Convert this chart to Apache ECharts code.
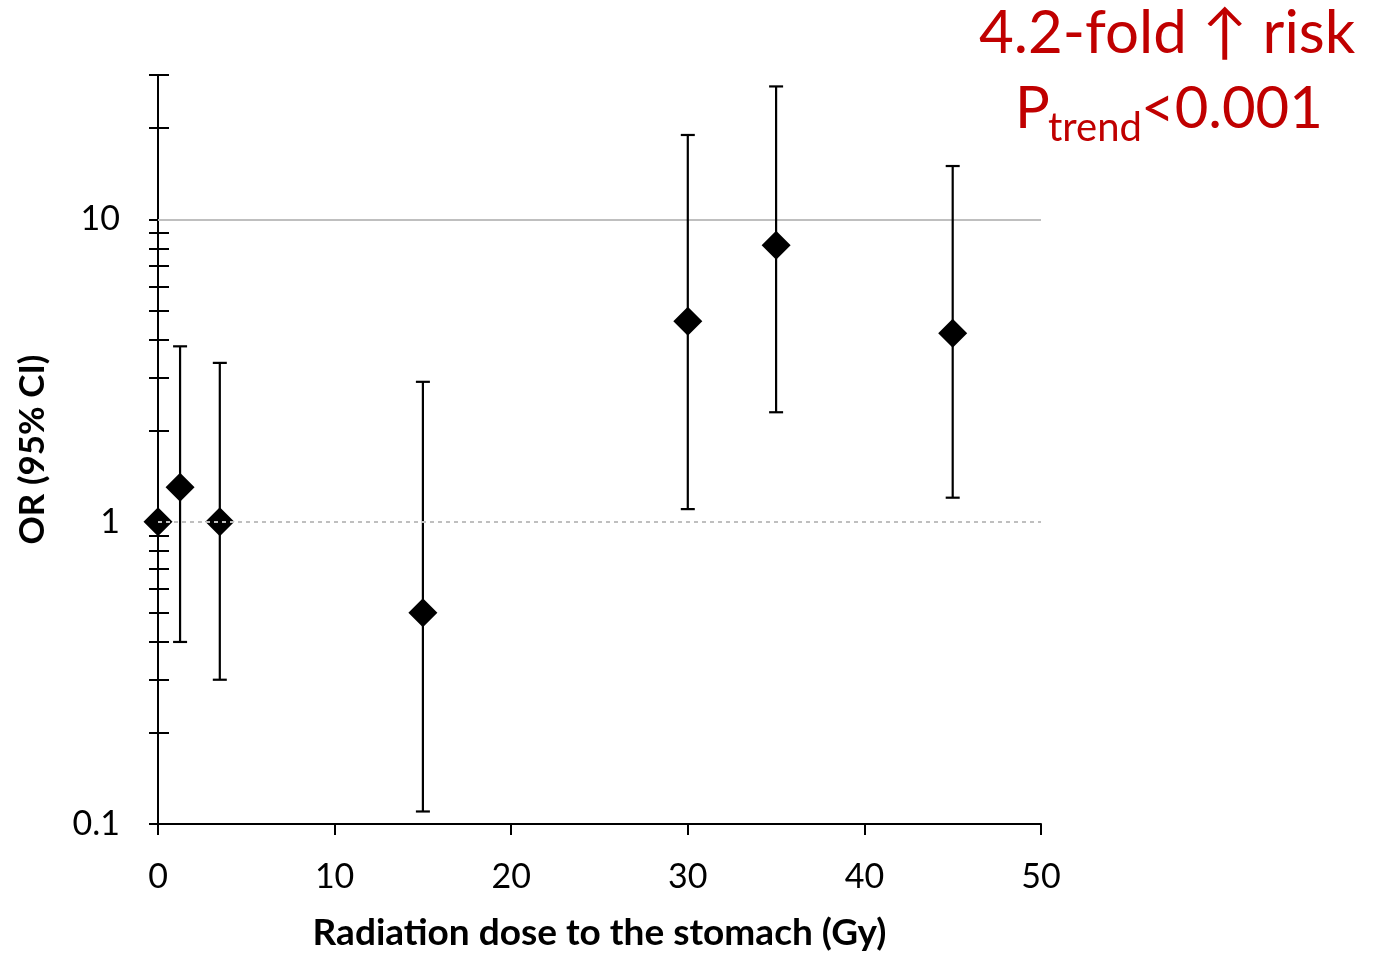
<!DOCTYPE html>
<html><head><meta charset="utf-8">
<script src="https://cdn.jsdelivr.net/npm/echarts@6/dist/echarts.min.js"></script>
<style>html,body{margin:0;padding:0;background:#fff}#c{width:1374px;height:957px}</style>
</head><body><div id="c"></div>
<script>
// Data
const doses = [0, 1.25, 3.5, 15, 30, 35, 45];
const oddsRatios = [1, 1.3, 1.0, 0.5, 4.6, 8.2, 4.2];
const ciLower = [null, 0.4, 0.3, 0.11, 1.1, 2.3, 1.2];
const ciUpper = [null, 3.8, 3.35, 2.9, 19, 27.5, 15];
const yTickValues = [0.1,0.2,0.3,0.4,0.5,0.6,0.7,0.8,0.9,1,2,3,4,5,6,7,8,9,10,20,30];
const yLabelValues = [0.1, 1, 10];
const xTickLabels = [0, 10, 20, 30, 40, 50];
const solidRefValue = 10;
const dottedRefValue = 1;

const FONT = 'Lato, "Open Sans", sans-serif';
const RED = '#c00000';

const pointData = doses.map((d, i) => [d, oddsRatios[i]]);
const errData = doses.map((d, i) => [d, ciLower[i], ciUpper[i]]).filter(r => r[1] != null);

const chart = echarts.init(document.getElementById('c'));
const yBase = {
  type: 'log', min: 0.1, max: 30, position: 'left', offset: 0,
  axisLine: { show: true, onZero: false, lineStyle: { color: '#000', width: 2 } },
  splitLine: { show: false },
  minorTick: { show: false },
  minorSplitLine: { show: false }
};
chart.setOption({
  animation: false,
  grid: { left: 158, right: 333, top: 75, bottom: 131, containLabel: false },
  xAxis: {
    type: 'value', min: 0, max: 50, interval: 10,
    name: 'Radiation dose to the stomach (Gy)', nameLocation: 'middle', nameGap: 91,
    nameTextStyle: { fontFamily: FONT, fontWeight: 'bold', fontSize: 37, color: '#000' },
    axisLine: { show: true, onZero: false, lineStyle: { color: '#000', width: 2 } },
    axisTick: { show: true, length: 11, lineStyle: { color: '#000', width: 2 }, customValues: xTickLabels },
    axisLabel: { fontFamily: FONT, fontSize: 34, color: '#000', margin: 36, customValues: xTickLabels }
    ,splitLine: { show: false }
  },
  yAxis: [
    Object.assign({}, yBase, {
      name: 'OR (95% CI)', nameLocation: 'middle', nameGap: 108, nameRotate: 90,
      nameTextStyle: { fontFamily: FONT, fontWeight: 'bold', fontSize: 35, color: '#000' },
      axisTick: { show: true, inside: false, length: 9, lineStyle: { color: '#000', width: 2 }, customValues: yTickValues },
      axisLabel: { fontFamily: FONT, fontSize: 34, color: '#000', margin: 38, customValues: yLabelValues,
        formatter: v => String(v) }
    }),
    Object.assign({}, yBase, {
      axisTick: { show: true, inside: true, length: 11, lineStyle: { color: '#000', width: 2 }, customValues: yTickValues },
      axisLabel: { show: false }
    })
  ],
  graphic: [
    { type: 'text', left: 979, top: 4, style: { text: '4.2-fold \u2191 risk', font: '60px ' + FONT, fill: RED } },
    { type: 'text', left: 1015, top: 80, style: { text: 'P', font: '58px ' + FONT, fill: RED } },
    { type: 'text', left: 1048, top: 108, style: { text: 'trend', font: '40px ' + FONT, fill: RED } },
    { type: 'text', left: 1141, top: 80, style: { text: '<0.001', font: '58px ' + FONT, fill: RED } }
  ],
  series: [
    {
      type: 'custom', yAxisIndex: 0, z: 2,
      data: errData,
      renderItem: function (params, api) {
        const x = api.value(0);
        const lo = api.coord([x, api.value(1)]);
        const hi = api.coord([x, api.value(2)]);
        const w = 7;
        const st = { stroke: '#000', lineWidth: 2.2 };
        return { type: 'group', children: [
          { type: 'line', shape: { x1: lo[0], y1: lo[1], x2: hi[0], y2: hi[1] }, style: st },
          { type: 'line', shape: { x1: lo[0] - w, y1: lo[1], x2: lo[0] + w, y2: lo[1] }, style: st },
          { type: 'line', shape: { x1: hi[0] - w, y1: hi[1], x2: hi[0] + w, y2: hi[1] }, style: st }
        ]};
      },
      markLine: {
        silent: true, symbol: 'none', z: 1, label: { show: false },
        lineStyle: { color: '#bfbfbf', width: 2, type: 'solid' },
        data: [{ yAxis: solidRefValue }]
      }
    },
    {
      type: 'scatter', yAxisIndex: 0, z: 3, clip: false,
      symbol: 'diamond', symbolSize: [29, 29],
      itemStyle: { color: '#000', opacity: 1 },
      data: pointData,
      markLine: {
        silent: true, symbol: 'none', z: 10, label: { show: false },
        lineStyle: { color: '#bfbfbf', width: 2, type: [4, 4] },
        data: [{ yAxis: dottedRefValue }]
      }
    }
  ]
});
</script></body></html>
